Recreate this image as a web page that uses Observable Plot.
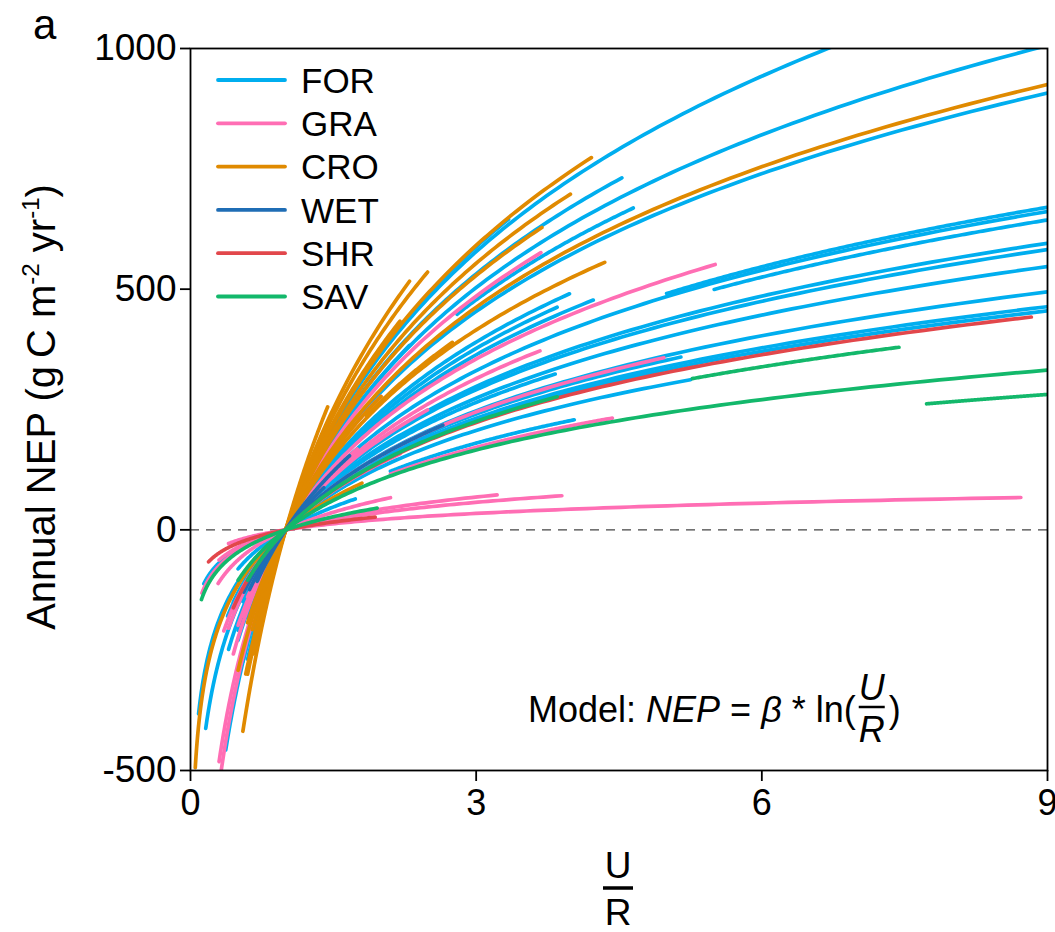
<!DOCTYPE html>
<html><head><meta charset="utf-8">
<script src="https://cdn.jsdelivr.net/npm/d3@7"></script>
<script src="https://cdn.jsdelivr.net/npm/@observablehq/plot@0.6"></script>
<style>
html,body{margin:0;padding:0;background:#fff;}
#chart{width:1055px;height:932px;}
</style></head>
<body><div id="chart"></div>
<script>
// Ecosystem categories and colours
const ecosystems = ["FOR","GRA","CRO","WET","SHR","SAV"];
const ecoColors  = ["#00AEEF","#FF6EB4","#E08A00","#1F6DB5","#E2474B","#13B86B"];
const xTicks = [0,3,6,9];
const yTicks = [-500,0,500,1000];

// Per-site fitted curves of the model NEP = beta * ln(U/R)
const siteGroup = [
  "FOR","FOR","FOR","FOR","FOR","FOR","FOR","FOR","FOR","FOR",
  "FOR","FOR","FOR","FOR","FOR","FOR","FOR","FOR","FOR","FOR",
  "FOR","FOR","FOR","FOR","FOR","FOR","FOR",
  "GRA","GRA","GRA","GRA","GRA","GRA","GRA","GRA","GRA","GRA","GRA","GRA","GRA",
  "CRO","CRO","CRO","CRO","CRO","CRO","CRO","CRO","CRO","CRO","CRO","CRO",
  "WET","WET","WET",
  "SHR","SHR",
  "SAV","SAV","SAV","SAV","SAV"
];
const siteBeta = [
  526,458,413,484,435,535,355,331,343,305,
  301,293,271,265,249,225,211,207,219,241,
  188,164,117,155,57,190,460,
  442,323,286,273,223,156,90,62,52,31,400,300,200,
  421,538,504,481,378,587,700,385,165,550,620,400,
  223,300,260,
  203,40,
  189,151,128,205,67
];
const siteXmin = [
  0.6,0.55,0.55,0.7,2.8,2.13,0.6,0.5,0.65,5.0,
  0.5,5.5,0.4,0.6,0.55,0.16,0.45,0.65,0.5,0.62,
  0.45,2.1,0.5,0.085,0.14,0.39,0.37,
  0.32,0.45,0.5,0.6,0.4,2.1,0.29,0.12,0.3,0.4,0.30,0.55,0.35,
  0.5,0.75,0.7,0.65,0.6,0.6,0.55,1.85,0.05,0.58,0.66,0.7,
  0.56,0.7,0.62,
  0.45,0.19,
  5.27,0.5,7.73,0.6,0.115
];
const siteXmax = [
  6.8,9,9,4.53,4.65,3.34,3.98,4.23,3.85,9,
  9,9,9,9,9,9,9,9,5.15,3.83,
  5.25,4.03,1.73,1.6,1.4,2.0,2.3,
  3.68,5.51,3.67,2.49,4.97,4.43,2.1,3.22,3.9,8.72,2.0,1.75,2.2,
  9,4.21,3.99,3.69,4.35,2.49,1.44,2.75,1.8,2.2,2.3,2.0,
  2.65,1.67,1.4,
  8.83,1.94,
  7.44,9,9,3.85,1.96
];

// sample each fitted curve along its observed U/R range
const samples = [];
siteGroup.forEach((g, i) => {
  const a = siteXmin[i], b = siteXmax[i], n = 150;
  for (let k = 0; k <= n; k++) {
    const x = a * Math.pow(b / a, k / n);
    samples.push({id: i, group: g, x, nep: siteBeta[i] * Math.log(x)});
  }
});

const FONT = "'Liberation Sans', Arial, Helvetica, sans-serif";

const chart = Plot.plot({
  width: 1055, height: 932,
  marginLeft: 190, marginRight: 8, marginTop: 48, marginBottom: 162,
  style: {fontFamily: FONT, background: "white", color: "black", overflow: "visible"},
  x: {domain: [0, 9]},
  y: {domain: [-500, 1000]},
  color: {domain: ecosystems, range: ecoColors},
  marks: [
    Plot.ruleY([0], {stroke: "#444", strokeWidth: 1.3, strokeDasharray: "9,7"}),
    Plot.line(samples, {x: "x", y: "nep", z: "id", stroke: "group", strokeWidth: 3.7,
      strokeLinecap: "round", clip: true}),
    Plot.frame({stroke: "black", strokeWidth: 1.8}),
    Plot.axisX({ticks: xTicks, tickSize: 11, tickPadding: 8, fontSize: 36, label: null,
      strokeWidth: 1.8, tickFormat: d => String(d)}),
    Plot.axisY({ticks: yTicks, tickSize: 10, tickPadding: 4, fontSize: 37, label: null,
      strokeWidth: 1.8, tickFormat: d => String(d)})
  ]
});
document.getElementById("chart").appendChild(chart);

const svg = d3.select(chart);

// legend inside the plot
const leg = svg.append("g").attr("font-family", FONT).attr("font-size", 35).attr("text-anchor", "start");
ecosystems.forEach((e, i) => {
  const y = 80 + i * 43.3;
  leg.append("line").attr("x1", 218).attr("x2", 285).attr("y1", y).attr("y2", y)
    .attr("stroke", ecoColors[i]).attr("stroke-width", 3.8).attr("stroke-linecap", "round");
  leg.append("text").attr("x", 301).attr("y", y).attr("dy", "0.36em").text(e);
});

// panel letter
svg.append("text").attr("x", 33).attr("y", 39).attr("font-family", FONT)
  .attr("text-anchor", "start").attr("font-size", 42).text("a");

// y axis title with superscripts
const yl = svg.append("text").attr("font-family", FONT).attr("font-size", 40)
  .attr("text-anchor", "middle").attr("transform", "translate(55,407) rotate(-90)");
yl.append("tspan").text("Annual NEP (g");
yl.append("tspan").text("\u2009C");
yl.append("tspan").text(" m");
yl.append("tspan").attr("font-size", 24).attr("dy", -16).text("-2");
yl.append("tspan").attr("dy", 16).text(" yr");
yl.append("tspan").attr("font-size", 24).attr("dy", -16).text("-1");
yl.append("tspan").attr("dy", 16).text(")");

// x axis title: U over R
const xl = svg.append("g").attr("font-family", FONT).attr("font-size", 37).attr("text-anchor", "middle");
xl.append("text").attr("x", 618).attr("y", 878).text("U");
xl.append("line").attr("x1", 603).attr("x2", 633).attr("y1", 888).attr("y2", 888)
  .attr("stroke", "black").attr("stroke-width", 3.5);
xl.append("text").attr("x", 618).attr("y", 925).text("R");

// model annotation
const mg = svg.append("g").attr("font-family", FONT).attr("font-size", 36).attr("text-anchor", "start");
const mt = mg.append("text").attr("x", 528).attr("y", 722);
mt.append("tspan").text("Model: ");
mt.append("tspan").attr("font-style", "italic").text("NEP");
mt.append("tspan").text(" = ");
mt.append("tspan").attr("font-style", "italic").text("\u03B2");
mt.append("tspan").text(" * ln(");
const w = mt.node().getComputedTextLength();
const fx = 528 + w + 16;
mg.append("text").attr("x", fx).attr("y", 700).attr("text-anchor", "middle")
  .attr("font-style", "italic").text("U");
mg.append("line").attr("x1", fx - 13).attr("x2", fx + 13).attr("y1", 707).attr("y2", 707)
  .attr("stroke", "black").attr("stroke-width", 2.5);
mg.append("text").attr("x", fx).attr("y", 742).attr("text-anchor", "middle")
  .attr("font-style", "italic").text("R");
mg.append("text").attr("x", fx + 17).attr("y", 722).text(")");
</script>
</body></html>
